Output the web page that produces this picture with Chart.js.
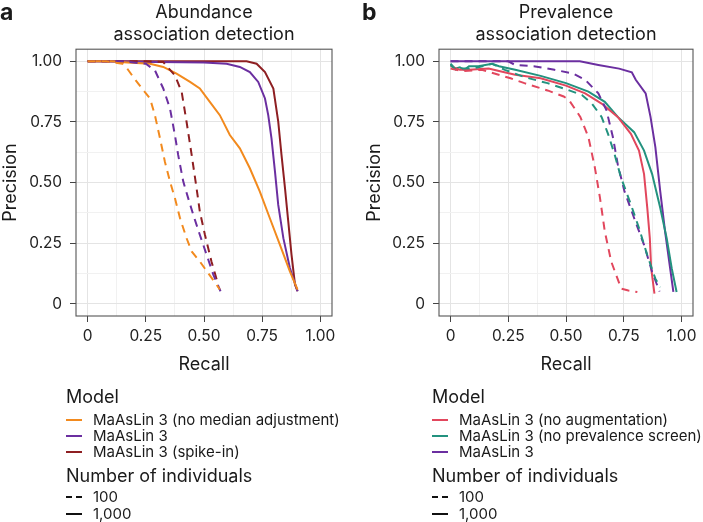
<!DOCTYPE html>
<html>
<head>
<meta charset="utf-8">
<script src="https://cdn.jsdelivr.net/npm/chart.js"></script>
<style>
  body{margin:0;background:#fff;width:703px;height:522px;position:relative;overflow:hidden;font-family:Inter,"Noto Sans",sans-serif;color:#1a1a1a;}
  .panel{position:absolute;top:0;height:390px;}
  .tag{position:absolute;font-weight:700;font-size:23px;line-height:23px;top:1px;}
  .lg{position:absolute;white-space:nowrap;}
  .lg .h{position:absolute;left:0;font-size:18px;line-height:20px;}
  .lg .it{position:absolute;font-size:15px;line-height:16px;}
  .lg .sw{position:absolute;left:0;width:16px;height:0;border-top:2px solid;}
</style>
</head>
<body>
<div class="panel" style="left:0;width:350px"><canvas id="chartA" width="350" height="390"></canvas></div>
<div class="panel" style="left:350px;width:353px"><canvas id="chartB" width="353" height="390"></canvas></div>
<div class="tag" style="left:0">a</div>
<div class="tag" style="left:362px">b</div>
<div id="legendA" class="lg" style="left:66px;top:0"></div>
<div id="legendB" class="lg" style="left:432px;top:0"></div>
<script>
/* ---------- DATA ---------- */
const tickValues=[0,0.25,0.5,0.75,1];
const tickLabels=["0","0.25","0.50","0.75","1.00"];
const sizeLabels=["100","1,000"];

// panel a: abundance
const modelsA=["MaAsLin 3 (no median adjustment)","MaAsLin 3","MaAsLin 3 (spike-in)"];
const colorsA=["#f28a1e","#6b2fa0","#8e1f22"];
const noMed100R=[0.00,0.08,0.15,0.17,0.20,0.24,0.268,0.289,0.311,0.332,0.354,0.375,0.397,0.425,0.447,0.482,0.518,0.554,0.568];
const noMed100P=[1.00,1.00,0.99,0.97,0.93,0.88,0.847,0.778,0.682,0.586,0.504,0.436,0.353,0.271,0.216,0.175,0.127,0.079,0.059];
const base100R=[0.00,0.15,0.25,0.289,0.325,0.354,0.375,0.389,0.411,0.432,0.454,0.482,0.511,0.54,0.571];
const base100P=[1.00,1.00,0.99,0.963,0.888,0.805,0.696,0.614,0.504,0.436,0.367,0.285,0.203,0.121,0.052];
const spike100R=[0.00,0.25,0.325,0.375,0.404,0.425,0.447,0.468,0.482,0.504,0.532,0.561];
const spike100P=[1.00,1.00,0.997,0.942,0.874,0.751,0.614,0.477,0.381,0.285,0.175,0.079];
const noMed1000R=[0.00,0.10,0.17,0.268,0.325,0.382,0.44,0.482,0.525,0.568,0.611,0.654,0.697,0.74,0.783,0.826,0.869,0.902];
const noMed1000P=[1.00,1.00,0.995,0.99,0.977,0.949,0.915,0.888,0.833,0.778,0.696,0.641,0.559,0.463,0.353,0.244,0.134,0.059];
const base1000R=[0.00,0.50,0.597,0.654,0.697,0.733,0.762,0.776,0.79,0.805,0.819,0.841,0.869,0.902];
const base1000P=[1.00,0.995,0.99,0.977,0.956,0.915,0.847,0.778,0.682,0.545,0.408,0.271,0.148,0.052];
const spike1000R=[0.00,0.683,0.726,0.762,0.798,0.819,0.833,0.848,0.862,0.876,0.891,0.902];
const spike1000P=[1.00,1.00,0.99,0.956,0.888,0.751,0.614,0.477,0.340,0.203,0.079,0.052];

// panel b: prevalence
const modelsB=["MaAsLin 3 (no augmentation)","MaAsLin 3 (no prevalence screen)","MaAsLin 3"];
const colorsB=["#e2475d","#23927f","#6b2fa0"];
const noAug100R=[0.00,0.05,0.135,0.19,0.26,0.32,0.42,0.49,0.513,0.562,0.597,0.625,0.647,0.668,0.696,0.739,0.77,0.809];
const noAug100P=[0.97,0.96,0.965,0.95,0.93,0.91,0.88,0.855,0.84,0.771,0.688,0.562,0.438,0.299,0.174,0.063,0.055,0.049];
const noPrev100R=[0.00,0.03,0.05,0.08,0.12,0.18,0.235,0.32,0.42,0.50,0.569,0.612,0.654,0.682,0.710,0.738,0.781,0.816,0.852,0.887,0.908];
const noPrev100P=[0.985,0.96,0.97,0.97,0.975,0.99,0.965,0.935,0.91,0.885,0.861,0.826,0.771,0.701,0.618,0.521,0.410,0.313,0.201,0.104,0.069];
const full100R=[0.00,0.25,0.28,0.36,0.45,0.53,0.583,0.640,0.675,0.703,0.724,0.753,0.795,0.838,0.873,0.905];
const full100P=[1.00,1.00,0.985,0.98,0.965,0.95,0.924,0.868,0.799,0.688,0.576,0.465,0.354,0.243,0.132,0.051];
const noAug1000R=[0.00,0.04,0.08,0.165,0.21,0.28,0.39,0.50,0.583,0.654,0.724,0.781,0.816,0.838,0.852,0.863,0.869,0.883];
const noAug1000P=[0.98,0.965,0.965,0.97,0.96,0.945,0.93,0.90,0.868,0.826,0.771,0.701,0.632,0.535,0.396,0.271,0.146,0.042];
const noPrev1000R=[0.00,0.02,0.04,0.06,0.08,0.12,0.18,0.21,0.28,0.39,0.50,0.597,0.668,0.724,0.795,0.838,0.873,0.908,0.936,0.958,0.979];
const noPrev1000P=[0.99,0.97,0.975,0.965,0.98,0.98,0.99,0.98,0.965,0.94,0.91,0.875,0.833,0.771,0.708,0.632,0.535,0.396,0.271,0.146,0.049];
const full1000R=[0.00,0.56,0.64,0.73,0.785,0.802,0.845,0.866,0.887,0.908,0.929,0.951,0.965];
const full1000P=[1.00,1.00,0.985,0.97,0.955,0.924,0.868,0.771,0.646,0.465,0.299,0.146,0.049];

/* ---------- HELPERS ---------- */
const FONT="Inter";
const isMajor=v=>tickValues.some(t=>Math.abs(t-v)<1e-6);
const gridTicks=[0,0.125,0.25,0.375,0.5,0.625,0.75,0.875,1];
const labelFor=v=>{const i=tickValues.findIndex(t=>Math.abs(t-v)<1e-6);return i<0?"":tickLabels[i];};
function curve(rs,ps,color,dashed){
  return{data:rs.map((r,i)=>({x:r,y:ps[i]})),borderColor:color,borderWidth:2,borderDash:dashed?[8,6]:[],
    showLine:true,pointRadius:0,tension:0,fill:false};
}
const panelBox={id:"panelBox",afterDraw(c){const a=c.chartArea,x=c.ctx;
  x.save();x.strokeStyle="#555";x.lineWidth=1.1;x.strokeRect(a.left,a.top,a.right-a.left,a.bottom-a.top);x.restore();}};
function axis(title,fitFn,tickPad,titlePad){
  return{type:"linear",min:-0.05,max:1.05,
    afterBuildTicks:s=>{s.ticks=gridTicks.map(v=>({value:v}));},
    afterFit:fitFn,
    border:{display:false},
    grid:{color:c=>isMajor(c.tick.value)?"#e4e4e4":"#f1f1f1",lineWidth:1,drawTicks:true,tickLength:6,
      tickColor:c=>isMajor(c.tick.value)?"#444":"rgba(0,0,0,0)"},
    ticks:{autoSkip:false,maxRotation:0,padding:tickPad,color:"#222",font:{family:FONT,size:15.5},callback:labelFor},
    title:{display:true,text:title,color:"#1a1a1a",font:{family:FONT,size:18},padding:titlePad}};
}
function makeChart(id,titleLines,datasets,yWidth,pad){
  return new Chart(document.getElementById(id),{type:"scatter",data:{datasets},
    options:{responsive:false,animation:false,events:[],layout:{padding:pad},
      plugins:{legend:{display:false},tooltip:{enabled:false},
        title:{display:true,fullSize:false,text:titleLines,color:"#1a1a1a",font:{family:FONT,size:18,weight:"normal",lineHeight:1.2},padding:{top:2,bottom:4}}},
      scales:{
        x:axis("Recall",s=>{s.height=74;},5,{top:0,bottom:15}),
        y:axis("Precision",s=>{s.width=yWidth;},8,{top:0,bottom:0})
      }},plugins:[panelBox]});
}

/* ---------- CHARTS ---------- */
makeChart("chartA",["Abundance","association detection"],[
  curve(noMed100R,noMed100P,colorsA[0],true),
  curve(base100R,base100P,colorsA[1],true),
  curve(spike100R,spike100P,colorsA[2],true),
  curve(noMed1000R,noMed1000P,colorsA[0],false),
  curve(base1000R,base1000P,colorsA[1],false),
  curve(spike1000R,spike1000P,colorsA[2],false)
],76,{left:0,right:18,top:0,bottom:0});
makeChart("chartB",["Prevalence","association detection"],[
  curve(noAug100R,noAug100P,colorsB[0],true),
  curve(noPrev100R,noPrev100P,colorsB[1],true),
  curve(full100R,full100P,colorsB[2],true),
  curve(noAug1000R,noAug1000P,colorsB[0],false),
  curve(noPrev1000R,noPrev1000P,colorsB[1],false),
  curve(full1000R,full1000P,colorsB[2],false)
],75,{left:14,right:10,top:0,bottom:0});

/* ---------- LEGENDS ---------- */
function renderLegend(id,models,colors){
  const el=document.getElementById(id);
  const rowY=[420,436,451.5],sizeY=[497,513.5];
  let h=`<div class="h" style="top:${397-10}px">Model</div>`;
  models.forEach((m,i)=>{h+=`<div class="sw" style="top:${rowY[i]-1}px;border-color:${colors[i]}"></div>
    <div class="it" style="left:27px;top:${rowY[i]-8}px">${m}</div>`;});
  h+=`<div class="h" style="top:${476-10}px">Number of individuals</div>`;
  sizeLabels.forEach((s,i)=>{h+=`<div class="sw" style="top:${sizeY[i]-1}px;border-top:2px ${i?"solid":"dashed"} #111"></div>
    <div class="it" style="left:27px;top:${sizeY[i]-8}px">${s}</div>`;});
  el.innerHTML=h;
}
renderLegend("legendA",modelsA,colorsA);
renderLegend("legendB",modelsB,colorsB);
</script>
</body>
</html>
